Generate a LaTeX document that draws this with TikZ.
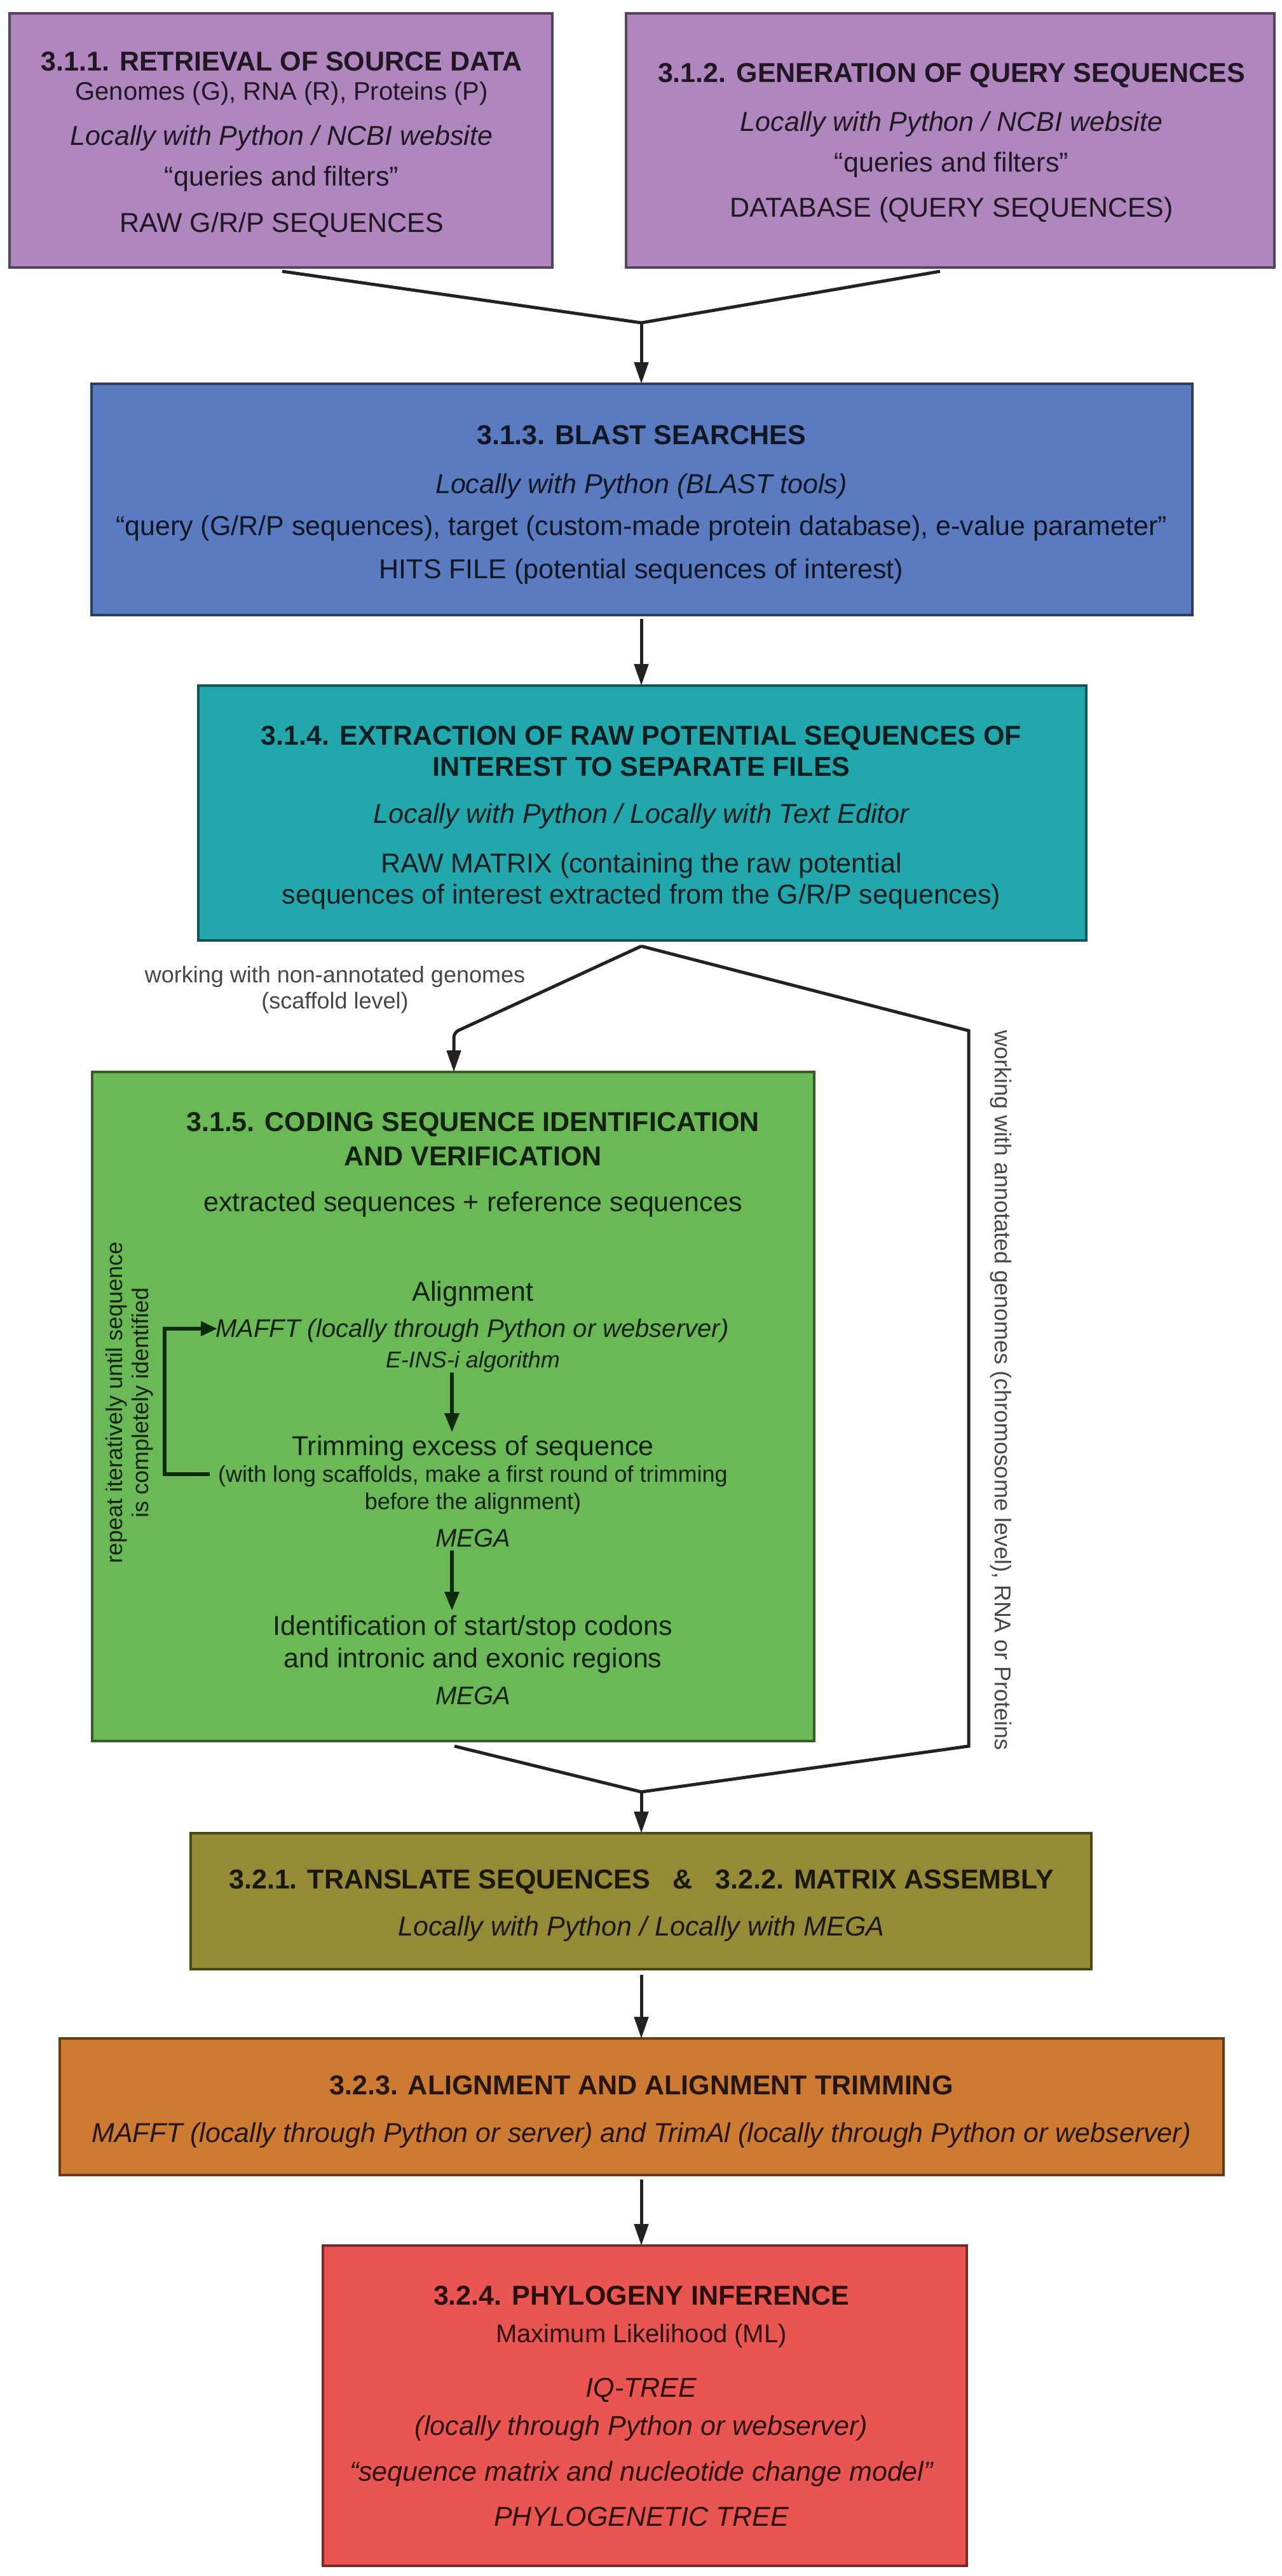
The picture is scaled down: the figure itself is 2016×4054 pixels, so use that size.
\documentclass[tikz,border=0pt]{standalone}
\usepackage{fontspec}
\setmainfont{Liberation Sans}
\usetikzlibrary{arrows.meta}
\definecolor{cpurple}{HTML}{B086BE}
\definecolor{cblue}{HTML}{5A7BBF}
\definecolor{cteal}{HTML}{22A7AC}
\definecolor{cgreen}{HTML}{6BB856}
\definecolor{colive}{HTML}{958A36}
\definecolor{corange}{HTML}{CD7B33}
\definecolor{cred}{HTML}{E95651}
\definecolor{cline}{HTML}{222222}
\definecolor{cgarrow}{HTML}{0F2A0B}
\tikzset{
  box/.style={draw=#1!50!black, fill=#1, line width=4pt, inner sep=0pt, outer sep=0pt},
  txt/.style={anchor=base, yshift=-14pt, text=black, text opacity=0.82, inner sep=0pt, align=center, font=\fontsize{43}{50}\selectfont},
  ttl/.style={txt, font=\fontsize{43}{50}\selectfont\bfseries},
  itx/.style={txt, font=\fontsize{43}{50}\selectfont\itshape},
  mdx/.style={txt, yshift=1pt, font=\fontsize{40}{48}\selectfont},
  mdi/.style={txt, yshift=1pt, font=\fontsize{40}{48}\selectfont\itshape},
  smx/.style={txt, yshift=2pt, font=\fontsize{36}{43}\selectfont},
  smi/.style={txt, yshift=2pt, font=\fontsize{36}{43}\selectfont\itshape},
  lbl/.style={anchor=center, text=black!72, inner sep=0pt, align=center, font=\fontsize{36}{41}\selectfont},
  ln/.style={draw=cline, line width=5pt},
  arr/.style={draw=cline, line width=5pt, -{Triangle[length=34pt,width=22pt]}},
  garr/.style={draw=cgarrow, line width=6pt, -{Triangle[length=30pt,width=22pt]}},
  gln/.style={draw=cgarrow, line width=6pt}
}
\begin{document}
\begin{tikzpicture}[x=1pt,y=-1pt]
\fill[white] (0,0) rectangle (2016,4054);
\useasboundingbox (0,0) rectangle (2016,4054);

% ---------- boxes ----------
\node[box=cpurple, minimum width=854pt, minimum height=400pt] (b1) at (442,221) {};
\node[box=cpurple, minimum width=1020pt, minimum height=400pt] (b2) at (1495,221) {};
\node[box=cblue, minimum width=1732pt, minimum height=364pt] (b3) at (1010,786) {};
\node[box=cteal, minimum width=1397pt, minimum height=401pt] (b4) at (1010,1279.5) {};
\node[box=cgreen, minimum width=1136pt, minimum height=1053pt] (b5) at (713,2213.5) {};
\node[box=colive, minimum width=1417pt, minimum height=214pt] (b6) at (1008.5,2992) {};
\node[box=corange, minimum width=1831pt, minimum height=215pt] (b7) at (1009.5,3315.5) {};
\node[box=cred, minimum width=1013pt, minimum height=504pt] (b8) at (1014.5,3786) {};

% ---------- box 1 ----------
\node[ttl] (t1a) at (443,98) {3.1.1. RETRIEVAL OF SOURCE DATA};
\node[mdx] (t1b) at (443,145) {Genomes (G), RNA (R), Proteins (P)};
\node[itx] (t1c) at (443,215) {Locally with Python / NCBI website};
\node[txt] (t1d) at (443,279) {“queries and filters”};
\node[txt] (t1e) at (443,351) {RAW G/R/P SEQUENCES};

% ---------- box 2 ----------
\node[ttl] (t2a) at (1497,116) {3.1.2. GENERATION OF QUERY SEQUENCES};
\node[itx] (t2b) at (1497,193) {Locally with Python / NCBI website};
\node[txt] (t2c) at (1497,256) {“queries and filters”};
\node[txt] (t2d) at (1497,327) {DATABASE (QUERY SEQUENCES)};

% ---------- box 3 ----------
\node[ttl] (t3a) at (1009,685) {3.1.3. BLAST SEARCHES};
\node[itx] (t3b) at (1009,762) {Locally with Python (BLAST tools)};
\node[txt] (t3c) at (1009,828) {“query (G/R/P sequences), target (custom-made protein database), e-value parameter”};
\node[txt] (t3d) at (1009,896) {HITS FILE (potential sequences of interest)};

% ---------- box 4 ----------
\node[ttl] (t4a) at (1009,1158) {3.1.4. EXTRACTION OF RAW POTENTIAL SEQUENCES OF};
\node[ttl] (t4b) at (1009,1207) {INTEREST TO SEPARATE FILES};
\node[itx] (t4c) at (1009,1281) {Locally with Python / Locally with Text Editor};
\node[txt] (t4d) at (1009,1359) {RAW MATRIX (containing the raw potential};
\node[txt] (t4e) at (1009,1408) {sequences of interest extracted from the G/R/P sequences)};

% ---------- box 5 ----------
\node[ttl] (t5a) at (744,1766) {3.1.5. CODING SEQUENCE IDENTIFICATION};
\node[ttl] (t5b) at (744,1820) {AND VERIFICATION};
\node[txt] (t5c) at (744,1892) {extracted sequences + reference sequences};
\node[txt] (t5d) at (744,2033) {Alignment};
\node[mdi] (t5e) at (743,2091) {MAFFT (locally through Python or webserver)};
\node[smi] (t5f) at (744,2140) {E-INS-i algorithm};
\node[txt] (t5g) at (744,2276) {Trimming excess of sequence};
\node[smx] (t5h) at (744,2320) {(with long scaffolds, make a first round of trimming};
\node[smx] (t5i) at (744,2363) {before the alignment)};
\node[mdi] (t5j) at (744,2421) {MEGA};
\node[txt] (t5k) at (744,2559) {Identification of start/stop codons};
\node[txt] (t5l) at (744,2610) {and intronic and exonic regions};
\node[mdi] (t5m) at (744,2669) {MEGA};
\node[lbl, text=black, text opacity=0.82, rotate=90] (t5n) at (204,2207) {repeat iteratively until sequence\\is completely identified};

% inner arrows of box 5
\coordinate (g1) at (711,2160);
\coordinate (g2) at (711,2254);
\coordinate (g3) at (711,2440);
\coordinate (g4) at (711,2535);
\draw[garr] (g1) -- (g2);
\draw[garr] (g3) -- (g4);
\coordinate (l1) at (330,2320);
\coordinate (l2) at (259,2320);
\coordinate (l3) at (259,2091);
\coordinate (l4) at (342,2091);
\draw[gln, -{Triangle[length=26pt,width=22pt]}, line join=miter] (l1) -- (l2) -- (l3) -- (l4);

% ---------- box 6 ----------
\node[ttl] (t6a) at (1009,2958) {3.2.1. TRANSLATE SEQUENCES\ \ \ \&\ \ \ 3.2.2. MATRIX ASSEMBLY};
\node[itx] (t6b) at (1009,3032) {Locally with Python / Locally with MEGA};

% ---------- box 7 ----------
\node[ttl] (t7a) at (1009,3282) {3.2.3. ALIGNMENT AND ALIGNMENT TRIMMING};
\node[itx] (t7b) at (1009,3357) {MAFFT (locally through Python or server) and TrimAl (locally through Python or webserver)};

% ---------- box 8 ----------
\node[ttl] (t8a) at (1009,3613) {3.2.4. PHYLOGENY INFERENCE};
\node[mdx] (t8b) at (1009,3673) {Maximum Likelihood (ML)};
\node[itx] (t8c) at (1009,3758) {IQ-TREE};
\node[itx] (t8d) at (1009,3818) {(locally through Python or webserver)};
\node[itx] (t8e) at (1009,3890) {“sequence matrix and nucleotide change model”};
\node[itx] (t8f) at (1009,3961) {PHYLOGENETIC TREE};

% ---------- connectors ----------
\coordinate (s1) at (444,427);
\coordinate (s2) at (1479,427);
\coordinate (j1) at (1009,508);
\draw[ln, line join=miter] (s1) -- (j1) -- (s2);
\draw[arr] (j1) -- (j1 |- b3.north);

\coordinate (o3) at (1009,974);
\draw[arr] (o3) -- (o3 |- b4.north);

\coordinate (j2) at (1009,1489);
\coordinate (k1) at (714,1625);
\coordinate (r1) at (1524,1622);
\coordinate (r2) at (1524,2748);
\coordinate (k2) at (715,2748);
\coordinate (j3) at (1009,2820);
\draw[arr, rounded corners=8pt] (j2) -- (k1) -- (k1 |- b5.north);
\draw[ln, line join=miter] (j2) -- (r1) -- (r2) -- (j3) -- (k2);
\draw[arr] (j3) -- (j3 |- b6.north);

\coordinate (o6) at (1009,3108);
\draw[arr] (o6) -- (o6 |- b7.north);
\coordinate (o7) at (1009,3430);
\draw[arr] (o7) -- (o7 |- b8.north);

% ---------- branch labels ----------
\node[lbl] (n1) at (527,1558) {working with non-annotated genomes\\(scaffold level)};
\node[lbl, rotate=-90] (n2) at (1575,2188) {working with annotated genomes (chromosome level), RNA or Proteins};

\end{tikzpicture}
\end{document}
